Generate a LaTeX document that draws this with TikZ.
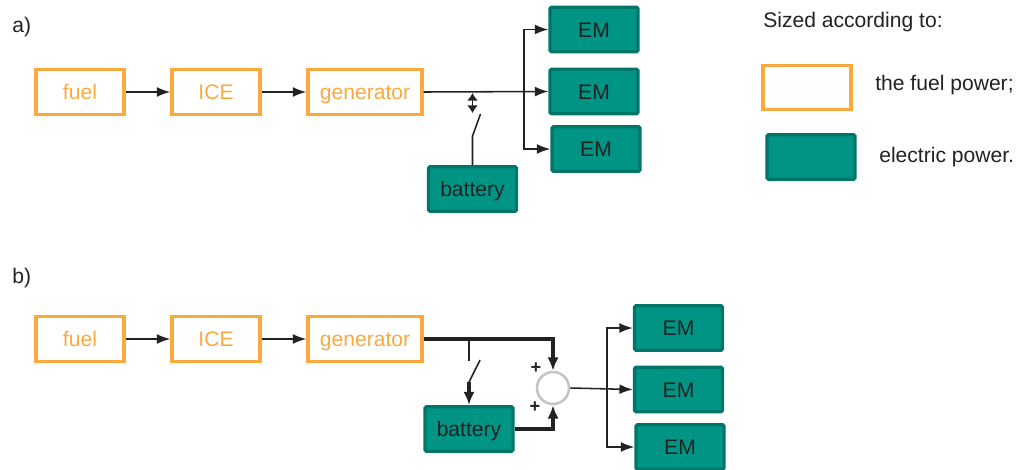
\documentclass[tikz,border=0pt]{standalone}
\usepackage{fontspec}
\setmainfont{Liberation Sans}
\usetikzlibrary{arrows.meta}

\definecolor{fuelorange}{HTML}{FBA93F}
\definecolor{emteal}{HTML}{009484}
\definecolor{emedge}{HTML}{00766A}
\definecolor{sumgray}{HTML}{C4C4C4}
\definecolor{txtdark}{HTML}{222222}

\tikzset{
  fuelbox/.style={draw=fuelorange,line width=2.4pt,text=fuelorange,
    minimum width=2.2cm,minimum height=1.11cm,inner sep=0pt,
    text height=10.7pt,text depth=0pt,
    font=\fontsize{15}{18}\selectfont},
  embox/.style={draw=emedge,fill=emteal,line width=2.4pt,rounded corners=1pt,
    text=txtdark,minimum width=2.2cm,minimum height=1.11cm,inner sep=0pt,
    text height=10.7pt,text depth=0pt,
    font=\fontsize{15}{18}\selectfont},
  sumnode/.style={circle,draw=sumgray,fill=white,line width=1.8pt,
    minimum size=0.8cm,inner sep=0pt},
  lbl/.style={anchor=west,inner sep=0pt,text=txtdark,
    font=\fontsize{15}{18}\selectfont},
  wire/.style={draw=txtdark,line width=1.1pt},
  arr/.style={wire,-{Latex[length=9.5pt,width=7pt]}},
  thickwire/.style={draw=txtdark,line width=2.6pt},
  thickarr/.style={thickwire,-{Latex[length=9.5pt,width=8pt]}},
  dblarr/.style={wire,{Latex[length=5.5pt,width=8pt]}-{Latex[length=5.5pt,width=8pt]}}
}

\begin{document}
\begin{tikzpicture}[x=0.025cm,y=-0.025cm]
  \useasboundingbox (0,0) rectangle (1018,469);

  %% a) series hybrid
  \node[lbl] (labA) at (12,27) {a)};
  \node[fuelbox] (fuelA) at (80,92) {fuel};
  \node[fuelbox] (iceA) at (216,92) {ICE};
  \node[fuelbox,minimum width=2.85cm] (genA) at (365,92) {generator};
  \node[embox] (emA1) at (594,29.5) {EM};
  \node[embox] (emA2) at (594,91.5) {EM};
  \node[embox] (emA3) at (596,149) {EM};
  \node[embox] (batA) at (472.5,189) {battery};

  \draw[arr] (fuelA) -- (iceA);
  \draw[arr] (iceA) -- (genA);
  \draw[arr] (genA.east) -- (emA2.west);

  \coordinate (busA) at (524,91.5);
  \draw[arr] (busA) |- (emA1.west);
  \draw[arr] (busA) |- (emA3.west);

  %% switch to battery
  \coordinate (dblA1) at (472.5,93);
  \coordinate (dblA2) at (472.5,113);
  \coordinate (swA) at (472.5,136);
  \coordinate (swAtip) at (480.5,114);
  \draw[dblarr] (dblA1) -- (dblA2);
  \draw[wire] (batA.north) -- (swA) -- (swAtip);

  %% legend
  \node[lbl] (sized) at (763,22) {Sized according to:};
  \node[fuelbox] (legFuel) at (807,87.5) {};
  \node[lbl] (legFuelTxt) at (875,85) {the fuel power;};
  \node[embox] (legEM) at (811,157) {};
  \node[lbl] (legEMTxt) at (879,157) {electric power.};

  %% b) with summing node
  \node[lbl] (labB) at (12,278) {b)};
  \node[fuelbox] (fuelB) at (80,339) {fuel};
  \node[fuelbox] (iceB) at (216,339) {ICE};
  \node[fuelbox,minimum width=2.85cm] (genB) at (365,339) {generator};
  \node[embox] (batB) at (469,429) {battery};
  \node[sumnode] (sumB) at (553,388) {};
  \node[embox] (emB1) at (678.5,328) {EM};
  \node[embox] (emB2) at (678.5,389.5) {EM};
  \node[embox] (emB3) at (680,447) {EM};

  \draw[arr] (fuelB) -- (iceB);
  \draw[arr] (iceB) -- (genB);
  \draw[thickarr] (genB.east) -| (sumB.north);
  \draw[thickarr] (batB.east) -| (sumB.south);

  \node[font=\fontsize{13}{15}\selectfont\bfseries,text=txtdark,inner sep=0pt] (plusTop) at (536,368) {+};
  \node[font=\fontsize{13}{15}\selectfont\bfseries,text=txtdark,inner sep=0pt] (plusBot) at (535,407) {+};

  %% switch to battery
  \coordinate (tapB) at (469,339);
  \coordinate (tapBend) at (469,361);
  \coordinate (swB) at (469,382);
  \coordinate (swBtip) at (480,360);
  \draw[wire] (tapB) -- (tapBend);
  \draw[wire] (swB) -- (swBtip);
  \draw[thickarr] (swB) -- (batB.north);

  \draw[arr] (sumB.east) -- (emB2.west);
  \coordinate (busB) at (607,389);
  \draw[arr] (busB) |- (emB1.west);
  \draw[arr] (busB) |- (emB3.west);
\end{tikzpicture}
\end{document}
